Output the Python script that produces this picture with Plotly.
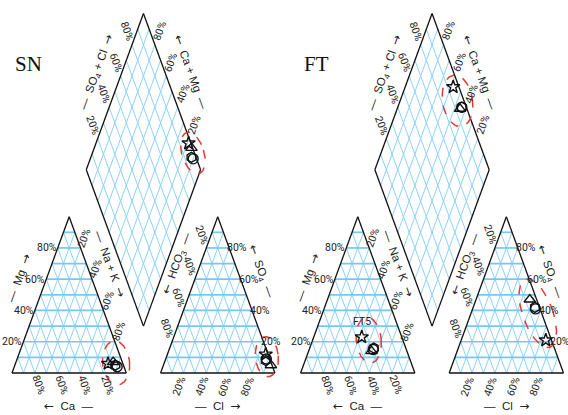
import numpy as np
import plotly.graph_objects as go

# ---- sample chemistry (meq %), one entry per sample symbol ----
panel_names = ["SN", "FT"]
symbols = ["star", "circle", "hexagon", "triangle-up"]

sn_ca = [13, 6, 7, 8]
sn_mg = [6, 4, 5, 7]
sn_nak = [81, 90, 88, 85]
sn_hco3 = [2, 3, 4, 1]
sn_so4 = [12, 9, 8, 5]
sn_cl = [86, 88, 88, 94]
sn_labels = ["", "", "", ""]

ft_ca = [35, 29, 28, 31]
ft_mg = [23, 15, 16, 14]
ft_nak = [42, 56, 56, 55]
ft_hco3 = [5, 4, 4, 6]
ft_so4 = [21, 41, 42, 47]
ft_cl = [74, 55, 54, 47]
ft_labels = ["FT5", "", "", ""]

tick_values = [20, 40, 60, 80]

# ---- Piper geometry ----
H = np.sqrt(3) / 2
GAP = 0.3
PANEL_X = [0.0, 2.525]
PX_X = 114.3   # screen px per unit along x
PX_Y = 180.5   # screen px per unit along y

GRID = "#8dd2f6"
GRID_H = "#74c8f4"
RED = "#e8392f"
FONT = "Roboto, Liberation Sans, Arial, sans-serif"
TITLE_FONT = "Liberation Sans, Arial, sans-serif"
SERIF = "Liberation Serif, Times New Roman, serif"

RARR = '<span style="font-family:DejaVu Sans;font-size:12px">→</span>'
LARR = '<span style="font-family:DejaVu Sans;font-size:12px">←</span>'
DASH = "—"

fig = go.Figure()


def cation_xy(ca, mg, nak, ox):
    ca, mg, nak = (np.asarray(v, float) for v in (ca, mg, nak))
    s = ca + mg + nak
    return ox + nak / s + mg / s / 2, H * mg / s


def anion_xy(hco3, so4, cl, ox):
    hco3, so4, cl = (np.asarray(v, float) for v in (hco3, so4, cl))
    s = hco3 + so4 + cl
    return ox + 1 + GAP + cl / s + so4 / s / 2, H * so4 / s


def diamond_left(ox):
    return ox + 1 + GAP / 2 - 0.5, GAP * H + H


def diamond_xy(a, b, ox):
    lx, ly = diamond_left(ox)
    a = np.asarray(a, float)
    b = np.asarray(b, float)
    return lx + 0.5 * (a + b), ly + H * (a - b)


def add_lines(segs, color, width):
    xs, ys = [], []
    for (x0, y0), (x1, y1) in segs:
        xs += [x0, x1, None]
        ys += [y0, y1, None]
    fig.add_trace(go.Scatter(x=xs, y=ys, mode="lines", hoverinfo="skip",
                             line=dict(color=color, width=width), showlegend=False))


def tri_grid(pa, pb, pc):
    """pa, pb: base corners, pc: apex. Returns (slanted, horizontal) segments."""
    pa, pb, pc = np.array(pa), np.array(pb), np.array(pc)
    slant, horiz = [], []
    for k in range(1, 10):
        t = k / 10
        horiz.append((t * pc + (1 - t) * pa, t * pc + (1 - t) * pb))
        slant.append((t * pa + (1 - t) * pb, t * pa + (1 - t) * pc))
        slant.append((t * pb + (1 - t) * pa, t * pb + (1 - t) * pc))
    return slant, horiz


anns = []


def ann(x, y, text, angle=0, dx=0, dy=0, size=10.5, xanchor="center", color="#222", family=FONT):
    anns.append(dict(x=float(x), y=float(y), xref="x", yref="y", text=text, showarrow=False,
                     textangle=angle, xshift=dx, yshift=-dy, xanchor=xanchor,
                     yanchor="middle", font=dict(family=family, size=size, color=color)))


def title(x, y, text, angle, d, fwd=True):
    s = f"{DASH}  {text}  {RARR}" if fwd else f"{LARR}  {text}  {DASH}"
    ann(x, y, s, angle=angle, dx=d[0], dy=d[1], size=11.5, family=TITLE_FONT)


UR = np.array([0.342, -0.940])   # up-right screen direction
UL = np.array([-0.342, -0.940])  # up-left
NL = np.array([-0.940, -0.342])  # outward normal of a left-leaning edge
NR = np.array([0.940, -0.342])   # outward normal of a right-leaning edge

# dashed highlight ellipses: half-axes (px), tilt (deg), nudge (px)
ellipse_style = {
    ("SN", "cat"): (13.5, 22, 6, (3.5, -1.5)),
    ("SN", "an"): (11.5, 20, 5, (-1.5, -3)),
    ("SN", "dia"): (11, 21.5, 17, (2, 2)),
    ("FT", "cat"): (12.5, 23, 6, (1, -4)),
    ("FT", "an"): (15, 36, 20, (0, -6.5)),
    ("FT", "dia"): (15, 26, 9, (0, 3)),
}


def ellipse(xs, ys, spec):
    rx, ry, tilt, (sx, sy) = spec
    cx = (np.min(xs) + np.max(xs)) / 2 + sx / PX_X
    cy = (np.min(ys) + np.max(ys)) / 2 - sy / PX_Y
    th = np.radians(tilt)
    t = np.linspace(0, 2 * np.pi, 120)
    u = np.array([np.cos(th), -np.sin(th)])
    v = np.array([np.sin(th), np.cos(th)])
    dxp = rx * np.cos(t) * u[0] + ry * np.sin(t) * v[0]
    dyp = rx * np.cos(t) * u[1] + ry * np.sin(t) * v[1]
    fig.add_trace(go.Scatter(x=cx + dxp / PX_X, y=cy - dyp / PX_Y, mode="lines",
                             line=dict(color=RED, width=1.5, dash="dash"),
                             hoverinfo="skip", showlegend=False))


panels = [
    (sn_ca, sn_mg, sn_nak, sn_hco3, sn_so4, sn_cl, sn_labels),
    (ft_ca, ft_mg, ft_nak, ft_hco3, ft_so4, ft_cl, ft_labels),
]

for name, ox, (ca, mg, nak, hco3, so4, cl, labels) in zip(panel_names, PANEL_X, panels):
    ca0 = (ox, 0.0); na0 = (ox + 1, 0.0); mg0 = (ox + 0.5, H)
    hc0 = (ox + 1 + GAP, 0.0); cl0 = (ox + 2 + GAP, 0.0); so0 = (ox + 1.5 + GAP, H)
    lx, ly = diamond_left(ox)
    d_bot = (lx + 0.5, ly - H); d_top = (lx + 0.5, ly + H); d_right = (lx + 1, ly)

    slant, horiz = [], []
    for tri in [(ca0, na0, mg0), (hc0, cl0, so0)]:
        s, h = tri_grid(*tri)
        slant += s
        horiz += h
    for k in range(1, 10):
        t = k / 10
        slant.append((diamond_xy(t, 0, ox), diamond_xy(t, 1, ox)))
        slant.append((diamond_xy(0, t, ox), diamond_xy(1, t, ox)))
    add_lines(slant, GRID, 1.0)
    add_lines(horiz, GRID_H, 1.7)

    # outlines
    add_lines([(ca0, na0), (na0, mg0), (mg0, ca0),
               (hc0, cl0), (cl0, so0), (so0, hc0),
               ((lx, ly), d_top), (d_top, d_right), (d_right, d_bot), (d_bot, (lx, ly))],
              "#111", 1.3)

    # sample positions
    cx, cy = cation_xy(ca, mg, nak, ox)
    axx, ayy = anion_xy(hco3, so4, cl, ox)
    an_sum = np.array(hco3, float) + np.array(so4) + np.array(cl)
    cat_sum = np.array(ca, float) + np.array(mg) + np.array(nak)
    a = (np.array(so4, float) + np.array(cl)) / an_sum
    b = np.array(nak, float) / cat_sum
    dx_, dy_ = diamond_xy(a, b, ox)

    ellipse(cx, cy, ellipse_style[(name, "cat")])
    ellipse(axx, ayy, ellipse_style[(name, "an")])
    ellipse(dx_, dy_, ellipse_style[(name, "dia")])

    for i, sym in enumerate(symbols):
        fig.add_trace(go.Scatter(
            x=[cx[i], axx[i], dx_[i]], y=[cy[i], ayy[i], dy_[i]], mode="markers",
            marker=dict(symbol=sym + "-open", size=10, color="#111",
                        line=dict(width=1.4, color="#111")),
            name=f"{name} {sym}", showlegend=False))
        if labels[i]:
            ann(cx[i], cy[i], labels[i], dy=-16, size=10.5)

    # tick labels
    for v in tick_values:
        t = v / 100
        # Mg (left edge of cation triangle)
        ann(ox + t / 2, H * t, f"{v}%", xanchor="right", dx=1)
        # Ca (base)
        d = UL * -13
        ann(ox + 1 - t, 0, f"{v}%", angle=70, dx=d[0], dy=d[1])
        # Na+K (right edge)
        d = UR * 11
        ann(ox + t + (1 - t) / 2, H * (1 - t), f"{v}%", angle=-70, dx=d[0], dy=d[1])
        # Cl (base of anion triangle)
        d = UR * -14
        ann(ox + 1 + GAP + t, 0, f"{v}%", angle=-70, dx=d[0], dy=d[1])
        # SO4 (right edge)
        ann(ox + 1 + GAP + (1 - t) + t / 2, H * t, f"{v}%", xanchor="left", dx=-4)
        # HCO3 (left edge)
        d = UL * 14
        ann(ox + 1 + GAP + (1 - t) / 2, H * (1 - t), f"{v}%", angle=70, dx=d[0], dy=d[1])
        # SO4+Cl (diamond upper-left edge)
        d = UL * 14
        ann(lx + 0.5 * t, ly + H * t, f"{v}%", angle=70, dx=d[0], dy=d[1])
        # Ca+Mg (diamond upper-right edge)
        d = UR * 15
        px_, py_ = diamond_xy(1, 1 - t, ox)
        ann(px_, py_, f"{v}%", angle=-70, dx=d[0], dy=d[1])

    # axis titles
    title(ox + 0.55 / 2, H * 0.55, "Mg", -70, NL * 26, fwd=True)
    title(ox + 0.5, 0, "Ca", 0, (0, 33), fwd=False)
    title(ox + 0.35 + 0.65 / 2, H * 0.65, "Na + K", 70, NR * 22, fwd=True)
    title(ox + 1 + GAP + 0.65 / 2, H * 0.65, "HCO<sub>3</sub>", -70, NL * 22, fwd=False)
    title(ox + 1 + GAP + 0.4 + 0.3, H * 0.6, "SO<sub>4</sub>", 70, NR * 22, fwd=False)
    title(ox + 1.5 + GAP, 0, "Cl", 0, (0, 33), fwd=True)
    title(lx + 0.5 * 0.57, ly + H * 0.57, "SO<sub>4</sub> + Cl", -70, NL * 24, fwd=True)
    px_, py_ = diamond_xy(1, 0.43, ox)
    title(px_, py_, "Ca + Mg", 70, NR * 24, fwd=False)

    # panel title, upper-left of the panel
    ann(ox, (373 - 64) / PX_Y, name, dx=1, xanchor="left", size=21, color="#111", family=SERIF)

fig.update_layout(
    width=568, height=415, margin=dict(l=0, r=0, t=0, b=0),
    paper_bgcolor="white", plot_bgcolor="white", showlegend=False,
    xaxis=dict(range=[-12 / PX_X, (568 - 12) / PX_X], visible=False, fixedrange=True),
    yaxis=dict(range=[(373 - 415) / PX_Y, 373 / PX_Y], visible=False, fixedrange=True),
    annotations=anns,
)

fig.write_html("out.html")
